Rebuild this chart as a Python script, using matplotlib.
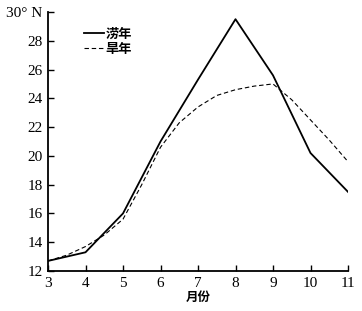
import matplotlib
matplotlib.use("Agg")
import matplotlib.pyplot as plt

months = [3, 4, 5, 6, 7, 8, 9, 10, 11]
flood_x = [3, 4, 5, 6, 7, 8, 9, 10, 11]
flood_y = [12.7, 13.3, 16.0, 21.0, 25.3, 29.5, 25.6, 20.2, 17.5]
drought_x = [3, 3.5, 4, 4.5, 5, 5.5, 6, 6.5, 7, 7.5, 8, 8.5, 9, 9.5, 10, 10.5, 11]
drought_y = [12.7, 13.1, 13.7, 14.5, 15.6, 18.0, 20.6, 22.3, 23.4, 24.2, 24.6, 24.85, 25.0, 23.9, 22.5, 21.1, 19.6]
yticks = [12, 14, 16, 18, 20, 22, 24, 26, 28, 30]
ytick_labels = ["12", "14", "16", "18", "20", "22", "24", "26", "28", "30° N"]
legend_labels = ["涝年", "旱年"]
xlabel = "月份"

serif = ["Liberation Serif", "DejaVu Serif"]
cjk = ["Noto Sans CJK SC", "DejaVu Sans"]

fig = plt.figure(figsize=(3.62, 3.11), dpi=100)
ax = fig.add_axes([48/362, 1-271/311, 300/362, 259/311])

ax.plot(flood_x, flood_y, color="black", lw=1.3, label=legend_labels[0])
ax.plot(drought_x, drought_y, color="black", lw=0.8, ls=(0, (4, 2.5)), label=legend_labels[1])

ax.set_xlim(3, 11)
ax.set_ylim(12, 30)
ax.set_xticks(months)
ax.set_xticklabels([str(m) for m in months], fontfamily=serif, fontsize=11)
ax.set_yticks(yticks)
ax.set_yticklabels(ytick_labels, fontfamily=serif, fontsize=11)
ax.tick_params(direction="in", length=4, width=1, pad=4)
for s in ["top", "right"]:
    ax.spines[s].set_visible(False)
for s in ["left", "bottom"]:
    ax.spines[s].set_linewidth(1.3)
ax.set_xlabel(xlabel, fontfamily=cjk, fontsize=9, fontweight="bold", labelpad=1)

leg = ax.legend(loc="upper left", bbox_to_anchor=(0.08, 0.99), frameon=False,
                handlelength=1.5, handletextpad=0.15, labelspacing=0.1,
                prop={"family": cjk, "size": 9.5, "weight": "bold"})

fig.savefig("out.png", dpi=100)
